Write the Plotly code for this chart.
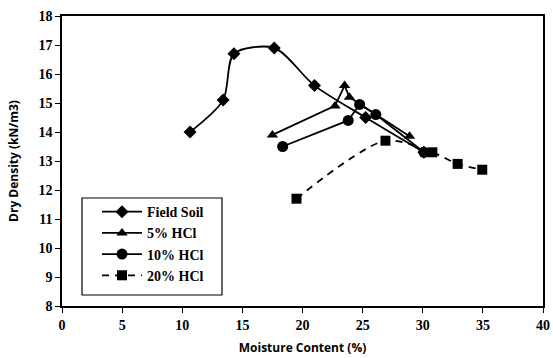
import plotly.graph_objects as go

# Compaction curves: moisture content (%) vs dry density (kN/m3)
field_mc = [10.65, 13.4, 14.3, 17.65, 21.0, 25.25, 30.1]
field_dd = [14.0, 15.1, 16.7, 16.9, 15.6, 14.5, 13.3]

hcl5_mc = [17.5, 22.7, 23.5, 23.9, 28.9]
hcl5_dd = [13.9, 14.9, 15.6, 15.2, 13.85]

hcl10_mc = [18.35, 23.8, 24.75, 26.1, 30.1]
hcl10_dd = [13.5, 14.4, 14.95, 14.6, 13.3]

hcl20_mc = [19.5, 26.9, 30.8, 32.9, 34.95]
hcl20_dd = [11.7, 13.7, 13.3, 12.9, 12.7]

x_ticks = [0, 5, 10, 15, 20, 25, 30, 35, 40]
y_ticks = [8, 9, 10, 11, 12, 13, 14, 15, 16, 17, 18]

fig = go.Figure()

series = [
    ("Field Soil", field_mc, field_dd, "diamond", 10, "solid", "spline"),
    ("5% HCl", hcl5_mc, hcl5_dd, "triangle-up", 10, "solid", "linear"),
    ("10% HCl", hcl10_mc, hcl10_dd, "circle", 11, "solid", "linear"),
    ("20% HCl", hcl20_mc, hcl20_dd, "square", 10, "7px,6px", "spline"),
]

for i, (name, xs, ys, sym, size, dash, shape) in enumerate(series):
    fig.add_trace(go.Scatter(
        x=xs, y=ys, name=name, mode="lines+markers",
        legendgroup=f"g{i}",
        line=dict(color="black", width=1.8, dash=dash, shape=shape, smoothing=0.8),
        marker=dict(symbol=sym, size=size, color="black"),
    ))

serif = "Liberation Serif"
tick_font = dict(family=serif, size=14, color="black", weight="bold")
title_font = dict(family="Open Sans", size=12, color="black", weight="bold")

# framed box behind the legend entries
fig.add_shape(
    type="rect", xref="x domain", yref="y domain",
    x0=0.0416, x1=0.3326, y0=0.038, y1=0.3724,
    line=dict(color="black", width=1.2), fillcolor="white", layer="below",
)

fig.update_layout(
    width=553, height=358,
    margin=dict(l=62, r=10, t=16, b=52, autoexpand=False),
    paper_bgcolor="white", plot_bgcolor="white",
    showlegend=True,
    legend=dict(
        x=0.0728, y=0.379, xanchor="left", yanchor="top",
        borderwidth=0, bgcolor="rgba(0,0,0,0)",
        font=dict(family=serif, size=14, color="black", weight="bold"),
        tracegroupgap=0, traceorder="grouped", itemwidth=40,
    ),
    xaxis=dict(
        range=[0, 40], tickvals=x_ticks, ticktext=[str(v) for v in x_ticks],
        showgrid=False, zeroline=False, showline=True, linecolor="black", linewidth=1.5,
        mirror=True, ticks="outside", ticklen=5, tickwidth=1.2, tickcolor="black",
        tickfont=tick_font, automargin=False,
        title=dict(text="Moisture Content (%)", font=title_font, standoff=12),
    ),
    yaxis=dict(
        range=[8, 18], tickvals=y_ticks, ticktext=[str(v) for v in y_ticks],
        showgrid=False, zeroline=False, showline=True, linecolor="black", linewidth=1.5,
        mirror=True, ticks="outside", ticklen=5, tickwidth=1.2, tickcolor="black",
        tickfont=tick_font, automargin=False,
        title=dict(text="Dry Density (kN/m3)", font=title_font, standoff=17),
    ),
)

fig.write_html("out.html")
